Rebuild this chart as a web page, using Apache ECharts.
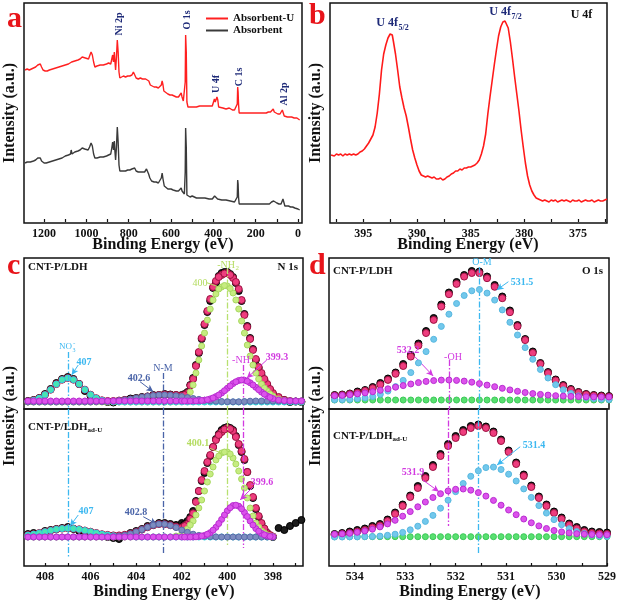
<!DOCTYPE html>
<html><head><meta charset="utf-8">
<script src="https://cdn.jsdelivr.net/npm/echarts@6/dist/echarts.min.js"></script>
<style>html,body{margin:0;padding:0;background:#fff}#c{width:619px;height:606px}</style>
</head><body><div id="c"></div>
<script>
// ---------- DATA ----------
// Panel a: survey spectra [binding energy, intensity]
const aAbsorbentU = [[1290,152],[1280,153],[1270,152],[1260,153],[1250,154],[1240,155],[1230,157],[1225,159],[1218,158],[1212,155],[1205,152],[1195,151],[1185,151],[1175,152],[1160,153],[1145,154],[1130,155],[1115,156],[1100,157],[1085,158],[1070,160],[1055,161],[1040,162],[1030,163],[1020,165],[1012,167],[1005,164],[998,165],[990,163],[985,166],[978,170],[972,167],[966,160],[960,155],[950,156],[935,157],[920,157],[905,158],[895,159],[885,158],[880,163],[876,167],[872,160],[868,170],[865,160],[862,152],[858,165],[854,182],[850,170],[846,150],[842,144],[835,145],[825,146],[815,145],[805,146],[795,146],[785,147],[778,150],[772,148],[765,144],[755,143],[745,144],[740,146],[735,143],[728,142],[720,143],[712,145],[705,141],[698,137],[690,136],[680,135],[670,135],[660,134],[652,133],[646,137],[642,141],[638,137],[634,131],[625,129],[615,128],[605,127],[595,127],[585,126],[575,125],[565,125],[558,125],[552,129],[548,125],[542,121],[537,120],[533,140],[531,187],[528,170],[525,120],[520,115],[510,115],[495,115],[480,115],[465,116],[450,116],[435,116],[420,116],[405,116],[398,118],[395,123],[391,120],[387,119],[383,125],[379,122],[375,115],[370,114],[355,114],[340,113],[325,114],[310,112],[300,112],[292,113],[287,118],[285,135],[283,130],[281,118],[278,109],[270,109],[255,109],[240,109],[225,109],[210,109],[195,109],[180,109],[165,109],[150,109],[140,110],[130,110],[122,112],[117,113],[112,110],[105,109],[95,108],[85,108],[78,109],[74,112],[70,111],[65,106],[60,105],[50,105],[40,105],[30,105],[22,106],[18,104],[10,105],[5,104],[0,103],[-8,102]];
const aAbsorbent = [[1290,59],[1280,60],[1265,60],[1250,61],[1240,62],[1230,64],[1224,66],[1218,64],[1212,61],[1200,59],[1190,59],[1175,60],[1160,61],[1145,62],[1130,63],[1115,64],[1100,66],[1085,67],[1075,68],[1072,72],[1068,68],[1055,70],[1040,71],[1030,72],[1020,74],[1014,76],[1008,73],[1000,74],[992,72],[985,75],[978,79],[972,76],[966,68],[960,64],[950,64],[935,65],[920,65],[905,66],[895,67],[885,68],[880,74],[876,80],[872,72],[868,81],[865,70],[862,62],[858,75],[854,95],[850,80],[846,57],[842,51],[835,51],[825,51],[815,51],[805,52],[795,52],[785,53],[778,55],[772,54],[765,51],[755,50],[745,50],[735,50],[725,50],[716,53],[712,54],[706,48],[700,44],[692,41],[680,40],[670,40],[660,39],[652,39],[646,44],[642,49],[638,43],[632,36],[625,34],[615,33],[600,33],[590,32],[575,31],[565,31],[558,31],[552,34],[548,31],[542,29],[537,28],[533,50],[531,94],[528,75],[525,27],[520,25],[510,25],[500,26],[495,28],[490,25],[480,24],[460,24],[440,24],[420,23],[405,23],[398,24],[394,26],[390,24],[380,23],[360,22],[340,22],[320,21],[300,20],[292,21],[287,25],[285,42],[283,38],[281,25],[278,18],[260,18],[240,18],[220,18],[200,18],[195,19],[190,18],[170,18],[150,18],[135,18],[125,20],[120,22],[115,21],[110,19],[100,19],[90,18],[80,18],[75,20],[71,23],[67,21],[62,16],[55,16],[45,16],[35,15],[30,16],[25,15],[20,13],[15,14],[10,14],[0,13],[-8,12]];
// Panel b: U 4f spectrum
const bU4f = [[398.0,67],[397.7,66],[397.5,68],[397.3,67],[397.1,68],[396.9,66],[396.7,68],[396.5,67],[396.3,68],[396.1,67],[395.9,68],[395.7,67],[395.5,68],[395.3,70],[395.1,71],[394.9,73],[394.7,76],[394.5,79],[394.3,83],[394.1,87],[393.9,95],[393.7,109],[393.5,128],[393.3,152],[393.1,168],[392.9,177],[392.7,184],[392.5,188],[392.4,189],[392.3,187],[392.2,181],[392.0,168],[391.8,152],[391.6,135],[391.4,124],[391.2,114],[391.0,106],[390.8,95],[390.6,83],[390.4,72],[390.2,64],[390.0,57],[389.8,51],[389.6,47],[389.4,46],[389.2,45],[389.0,46],[388.8,45],[388.6,44],[388.4,45],[388.2,43],[388.0,43],[387.8,44],[387.6,42],[387.4,43],[387.2,45],[387.0,46],[386.8,48],[386.6,49],[386.4,51],[386.2,51],[386.0,53],[385.8,52],[385.6,54],[385.4,54],[385.2,55],[385.0,55],[384.8,56],[384.6,57],[384.4,59],[384.2,62],[384.0,68],[383.8,76],[383.6,88],[383.4,108],[383.2,125],[383.0,141],[382.8,157],[382.6,172],[382.4,186],[382.2,195],[382.0,200],[381.9,202],[381.8,201],[381.7,199],[381.5,194],[381.3,180],[381.1,163],[380.9,145],[380.7,128],[380.5,111],[380.3,92],[380.1,75],[379.9,59],[379.7,46],[379.5,37],[379.3,31],[379.1,27],[378.9,24],[378.7,23],[378.5,22],[378.3,21],[378.1,22],[377.9,21],[377.7,20],[377.5,22],[377.3,21],[377.1,22],[376.9,20],[376.7,21],[376.5,22],[376.3,21],[376.1,22],[375.9,21],[375.7,20],[375.5,22],[375.3,21],[375.1,21],[374.9,22],[374.7,20],[374.5,21],[374.3,22],[374.1,21],[373.9,21],[373.7,22],[373.5,20],[373.3,21],[373.1,22],[372.9,21],[372.7,21],[372.5,22],[372.3,23]];

// Panel c: N 1s energies (coarse grid over the whole range + fine grid over the main peak)
const cE = [408.75,408.5,408.25,408.0,407.75,407.5,407.25,407.0,406.75,406.5,406.25,406.0,405.75,405.5,405.25,405.0,404.75,404.5,404.25,404.0,403.75,403.5,403.25,403.0,402.75,402.5,402.25,402.0,401.75,401.5,401.25,401.0,400.75,400.5,400.25,400.0,399.75,399.5,399.25,399.0,398.75,398.5,398.25,398.0,397.75,397.5,397.25,397.0,396.75];
const cEfine = [401.875,401.625,401.375,401.125,400.875,400.625,400.375,400.125,399.875,399.625,399.375,399.125,398.875,398.625,398.375,398.125];
// c top: CNT-P/LDH
const c1Raw = [8,9,11,15,20,26,30,32,30,25,18,13,10,8,7,6.5,8,9,10.5,11,12,12.5,14,14,15,14.5,14,14,17,31,56,84,108,126,136,137,132,118,95,71,49,34,24,15,11,9,7,7.5,7];
const c1RawFine = [15,24,44,70,97,121,133,137,135,126,108,83,60,41,29,19];
const c1Fit = [7.6,8.7,10.8,14.3,19.3,24.9,29.3,31,29.3,24.9,19.3,14.3,10.8,8.7,8,8,8.5,9,9.5,10.5,11.5,12.5,13.5,14,14.5,14,14,13.5,16,30,57,85,110,128,134,136,131,120,94,70,50,36,25,16,12,9,8,7.5,7.5];
const c1FitFine = [14,23.5,43,71,98,122,132,135.5,134,127,109,82,59,42,30,20];
const c1NO3 = [7.6,8.7,10.8,14.3,19.3,24.9,29.3,31,29.3,24.9,19.3,14.3,10.8,8.7,7.6,7.2,7,7,7,7,7,7,7,7,7,7,7,7,7,7,7,7,7,7,7,7,7,7,7,7,7,7,7,7,7,7,7,7,7];
const c1NM = [7,7,7,7,7,7,7,7,7,7,7,7,7.2,7.35,7.6,7.9,8.5,9.1,9.9,10.9,11.8,12.7,13.4,13.9,14,13.7,13.2,12.4,11.4,10.5,9.6,8.8,8.2,7.8,7.5,7.3,7.2,7.2,7.5,7.8,8,8,8,8,8,8,8,8,8];
const c1NH2 = [7,7,7,7,7,7,7,7,7,7,7,7,7,7,7,7,7,7,7,7,7,7,7,7,7,7,7,8,11,24,49,76,100,115,122,123,116,100,76,53,36,25,18,13,10,8.5,7.5,7,7];
const c1NH2Fine = [9,17,36,63,89,109,120,123.5,120.5,109,88,64,44,30,21,15];
const c1NH = [8,8,8,8,8,8,8,8,8,8,8,8,8,8,8,8,8,8,8,8,8,8,8,8,8,8,8,8,8,8,8.3,8.8,10.1,12.4,16,20.7,25.4,28.5,28.8,26.2,21.7,16.9,13,10.4,9,8.4,8.1,8,8];
const c1NHFine = [8,8,8.1,8.5,9.3,11.1,14,18.3,23.1,27.2,29,27.8,24.1,19.3,14.8,11.6];
// c bottom: CNT-P/LDH ad-U
const c2Raw = [32,33,32,35,36,37,38,39,37,35,34,33,31,30,29,28,27,30,33,35,37,40,41,43,43,42,41,43,45,55,75,93,110,127,136,139,136,121,106,80,57,42,33,29,38,36,40,43,46];
const c2RawFine = [42,49,65,85,103,119,132,138,138,130,114,94,68,49,37,30];
const c2Fit = [30.9,31.8,33,34.3,35.5,36.7,37.4,37.7,37.4,36.7,35.5,34.3,33,31.8,31.1,30.6,30.6,31.2,32.3,34.1,36.4,38.8,40.8,41.9,41.8,40.8,39.3,38.3,42,52.7,75,95,111,126,134,138,135,122,107,81,58,43,33,29.5,null,null,null,null,null];
const c2FitFine = [40,47,64,86,104,119,131,136.5,137,129,115,94,69,50,37.5,31];
const c2NO3 = [30.9,31.8,33,34.3,35.5,36.7,37.4,37.7,37.4,36.7,35.5,34.3,33,31.8,30.9,30.2,29.7,29.4,29.2,29,29,29,29,29,29,29,29,29,29,29,29,29,29,29,29,29,29,29,29,29,29,29,29,29,null,null,null,null,null];
const c2NM = [29,29,29,29,29,29,29,29,29,29,29,29,29,29,29.2,29.4,29.9,30.8,32.1,34.1,36.4,38.8,40.8,41.9,41.8,40.5,38.4,35.9,33.7,31.8,30.6,29.8,29.4,29.1,29,29,29,29,29,29,29,29,29,29,null,null,null,null,null];
const c2NH2 = [29,29,29,29,29,29,29,29,29,29,29,29,29,29,29,29,29,29,29,29,29,29,29,29,29,29,30,32,37,45,58,75,92,106,113,114,108,95,78,58,43,35,31,29.5,null,null,null,null,null];
const c2NH2Fine = [34,41,51,66,84,99,110,114,112,102,87,68,50,39,33,30];
const c2NH = [29,29,29,29,29,29,29,29,29,29,29,29,29,29,29,29,29,29,29,29,29,29,29,29,29,29,29,29,29,29,29.5,30.6,33.3,38.7,46.6,55.2,60.4,59.8,53.6,45,37.4,32.6,30.2,29.3,null,null,null,null,null];
const c2NHFine = [29,29,29.2,30,31.8,35.8,42.5,51,58.3,60.8,57.2,49.5,41,34.8,31.2,29.6];

// Panel d: O 1s energies
const dE = [534.4,534.25,534.1,533.95,533.8,533.65,533.5,533.35,533.2,533.05,532.9,532.75,532.6,532.45,532.3,532.15,532.0,531.85,531.7,531.55,531.4,531.25,531.1,530.95,530.8,530.65,530.5,530.35,530.2,530.05,529.9,529.75,529.6,529.45,529.3,529.15,529.0];
const d1Raw = [14,14.5,15.5,17.5,19,22,26,30.5,36.5,45,54,65.5,78,91,104.5,116.5,127,134,138,137.5,132.5,124,112.5,98.5,84,70,57.5,46,37,29.5,24,20,17,15,14,13.5,13];
const d1Fit = [13.4,13.9,14.9,16.3,18.2,20.8,24.4,29.1,35.2,43,52.4,63.5,76,89.1,102.5,114.8,125.1,132.4,136,135.9,130.8,122.2,110.8,96.8,82.7,68.9,56.1,45.1,35.9,28.6,23.1,19.2,16.5,14.6,13.5,12.8,12.4];
const d1OM = [9.2,9.3,9.6,10.2,11.1,12.5,14.7,17.9,22.4,28.6,36.4,46.1,57.4,69.7,82.6,94.8,105.5,113.5,118.2,119.5,115.9,108.9,99.1,86.7,74,61.4,49.7,39.5,31,24.3,19.2,15.6,13.1,11.4,10.4,9.8,9.4];
const d1OH = [13.2,13.6,14.3,15.1,16.1,17.3,18.7,20.2,21.8,23.4,25,26.4,27.6,28.4,28.9,29,28.6,27.9,26.8,25.4,23.9,22.3,20.7,19.1,17.7,16.5,15.4,14.6,13.9,13.3,12.9,12.6,12.4,12.2,12.1,12,12];
const d1Base = [9,9,9,9,9,9,9,9,9,9,9,9,9,9,9,9,9,9,9,9,9,9,9,9,9,9,9,9,9,9,9,9,9,9,9,9,9];
const d2Raw = [32,33,34.5,36,37.5,40,42,46.5,53.5,61.5,70.5,80,90,101,112,122,130,136,140,141.5,139.5,134.5,126.5,115.5,103.5,91.5,80.5,69.5,61.5,54.5,48.5,42.5,39,36,34.5,34,33.5];
const d2Fit = [31,32,33,34.5,36,38.5,40.5,45,52,60,69,78,88,99,110,120,128,134,138,140,138,133,125,114,102,90,79,68,60,53,47,41,37.5,34.5,33,32.5,32];
const d2OM = [29,29,29.1,29.1,29.3,29.5,29.9,30.7,31.8,33.6,36.2,39.8,44.6,50.6,57.8,65.8,74.3,82.5,89.7,95.2,98.4,98.9,96.5,91.8,85,77.1,68.6,60.4,52.9,46.4,41.3,37.3,34.4,32.4,31,30.1,29.6];
const d2OH = [31.7,32.1,32.7,33.7,35,36.8,39.1,42.1,45.7,49.8,54.4,59.2,64,68.5,72.3,75.1,76.7,77,75.8,73.4,69.9,65.6,60.8,56,51.3,47,43.2,40.1,37.5,35.5,34.1,33.1,32.3,31.8,31.5,31.3,31.2];
const d2Base = [29.3,29.3,29.3,29.3,29.3,29.3,29.3,29.3,29.3,29.3,29.3,29.3,29.3,29.3,29.3,29.3,29.3,29.3,29.3,29.3,29.3,29.3,29.3,29.3,29.3,29.3,29.3,29.3,29.3,29.3,29.3,29.3,29.3,29.3,29.3,29.3,29.3];

// Tick positions / labels
const aTicks = [0,100,200,300,400,500,600,700,800,900,1000,1100,1200];
const aLabels = [0,200,400,600,800,1000,1200];
const bTicks = [372.5,375,377.5,380,382.5,385,387.5,390,392.5,395,397.5];
const bLabels = [375,380,385,390,395];
const cTicks = [397,398,399,400,401,402,403,404,405,406,407,408];
const cLabels = [398,400,402,404,406,408];
const dTicks = [529,529.5,530,530.5,531,531.5,532,532.5,533,533.5,534];
const dLabels = [529,530,531,532,533,534];

// Reference lines [energy, y-start, y-end]
const cLines1 = {cyan:[407,57,0], slate:[402.8,36,0], green:[400,141,0], mag:[399.3,44,0]};
const cLines2 = {cyan:[407,157,8], slate:[402.8,157,13], green:[400,157,21], mag:[399.3,157,18]};
const dLines1 = {cyan:[531.55,142,0], mag:[532.15,49,0]};
const dLines2 = {cyan:[531.55,157,13], mag:[532.15,157,40]};

// ---------- CHART ----------
const FONT = '"Liberation Serif","Times New Roman",serif';
const COL = {cyanL:'#3cb8f0', slateL:'#4a64a8', greenL:'#b4dc60', magL:'#d23ae0', navy:'#1e2a78'};
const chart = echarts.init(document.getElementById('c'), null, {renderer:'canvas'});

function zip(xs, ys){ const o=[]; for(let i=0;i<xs.length;i++){ if(ys[i]!=null) o.push([xs[i], ys[i]]); } return o; }

const gridDefs = [
  {left:24, top:3, width:278, height:220},
  {left:330, top:3, width:277, height:220},
  {left:24, top:258, width:279, height:151},
  {left:24, top:409, width:279, height:157},
  {left:329, top:258, width:280, height:151},
  {left:329, top:409, width:280, height:157}
];
const grid = gridDefs.map(g => Object.assign({show:true, borderColor:'#111', borderWidth:1.5, backgroundColor:'rgba(0,0,0,0)'}, g));

function xa(gi, min, max, ticks, labels){
  return {type:'value', gridIndex:gi, min:min, max:max, inverse:true,
    splitLine:{show:false}, axisLine:{show:false},
    axisTick: ticks ? {show:true, inside:true, length:3, lineStyle:{color:'#111', width:1.2}, customValues:ticks} : {show:false},
    axisLabel: labels ? {show:true, customValues:labels, margin:5, color:'#111', fontFamily:FONT, fontWeight:'bold', fontSize:12,
      formatter: v => String(v)} : {show:false}
  };
}
const xAxis = [
  xa(0, -19, 1295, aTicks, aLabels),
  xa(1, 372.3, 398.1, bTicks, bLabels),
  xa(2, 396.68, 408.92, null, null),
  xa(3, 396.68, 408.92, cTicks, cLabels),
  xa(4, 529, 534.51, null, null),
  xa(5, 529, 534.51, dTicks, dLabels)
];
const yr = [[-1,219],[-1,219],[0,151],[0,157],[0,151],[0,157]];
const yAxis = yr.map((r,i)=>({type:'value', gridIndex:i, min:r[0], max:r[1], show:false, splitLine:{show:false}}));

function lineS(name, gi, data, color, w, z){
  return {name:name, type:'line', xAxisIndex:gi, yAxisIndex:gi, data:data, showSymbol:false, symbol:'none',
    lineStyle:{color:color, width:w}, itemStyle:{color:color}, z:z, silent:true, animation:false};
}
function vseg(l, color){
  return [{coord:[l[0], l[1]], symbol:'none', lineStyle:{color:color, width:1.3, type:[6,2,1.5,2]}}, {coord:[l[0], l[2]], symbol:'none'}];
}
function aseg(p, color, arrow){
  return [{coord:p[0], symbol:'none', lineStyle:{color:color, width:1, type:'solid'}}, {coord:p[1], symbol: arrow ? 'arrow' : 'none', symbolSize:[5,7]}];
}
function dotS(name, gi, pts, fill, edge, size, z, marks){
  const s = {name:name, type:'scatter', xAxisIndex:gi, yAxisIndex:gi, data:pts, symbolSize:size,
    itemStyle:{color:fill, borderColor:edge, borderWidth:1, opacity:1}, z:z, silent:true, animation:false};
  if (marks) s.markLine = {silent:true, symbol:['none','none'], label:{show:false}, animation:false, emphasis:{disabled:true}, data:marks};
  return s;
}

const P = {raw:['#1c1c1c','#000'], fit:['#ee3d7e','#9c1040'], nh2:['#c6ec80','#a8d860'], no3:['#48e6b0','#30cfe0'],
  nm:['#7c8cc0','#5a6aa8'], nh:['#dc52ec','#b82cd0'], om:['#72c8ec','#58b8e0'], base:['#58e070','#3cc858']};

const series = [
  lineS('Absorbent-U', 0, aAbsorbentU, '#ff2020', 1.4, 3),
  lineS('Absorbent', 0, aAbsorbent, '#3a3a3a', 1.4, 3),
  lineS('U 4f', 1, bU4f, '#ff1a1a', 1.6, 3),
  // c top
  dotS('raw c1', 2, zip(cE, c1Raw).concat(zip(cEfine, c1RawFine)), P.raw[0], P.raw[1], 7, 2),
  dotS('fit c1', 2, zip(cE, c1Fit).concat(zip(cEfine, c1FitFine)), P.fit[0], P.fit[1], 7, 3),
  dotS('-NH2 c1', 2, zip(cE, c1NH2).concat(zip(cEfine, c1NH2Fine)), P.nh2[0], P.nh2[1], 6, 4,
       [vseg(cLines1.green, '#b8e070'), aseg([[400.90,126.3],[400.40,122.3]], COL.greenL, false)]),
  dotS('NO3 c1', 2, zip(cE, c1NO3), P.no3[0], P.no3[1], 6, 4,
       [vseg(cLines1.cyan, COL.cyanL), aseg([[406.54,44],[406.83,34]], COL.cyanL, true)]),
  dotS('N-M c1', 2, zip(cE, c1NM), P.nm[0], P.nm[1], 6, 5,
       [vseg(cLines1.slate, COL.slateL), aseg([[403.83,27.3],[403.25,17.3]], COL.slateL, true)]),
  dotS('-NH c1', 2, zip(cE, c1NH).concat(zip(cEfine, c1NHFine)), P.nh[0], P.nh[1], 6, 6,
       [vseg(cLines1.mag, COL.magL), aseg([[398.27,49],[399.15,30.7]], COL.magL, true)]),
  // c bottom
  dotS('raw c2', 3, zip(cE, c2Raw).concat(zip(cEfine, c2RawFine)), P.raw[0], P.raw[1], 7, 2),
  dotS('fit c2', 3, zip(cE, c2Fit).concat(zip(cEfine, c2FitFine)), P.fit[0], P.fit[1], 7, 3),
  dotS('-NH2 c2', 3, zip(cE, c2NH2).concat(zip(cEfine, c2NH2Fine)), P.nh2[0], P.nh2[1], 6, 4,
       [vseg(cLines2.green, '#b8e070'), aseg([[400.76,117.7],[400.25,112.7]], COL.greenL, false)]),
  dotS('NO3 c2', 3, zip(cE, c2NO3), P.no3[0], P.no3[1], 6, 4,
       [vseg(cLines2.cyan, COL.cyanL), aseg([[406.54,51],[406.90,40]], COL.cyanL, true)]),
  dotS('N-M c2', 3, zip(cE, c2NM), P.nm[0], P.nm[1], 6, 5,
       [vseg(cLines2.slate, COL.slateL), aseg([[403.69,49.3],[403.10,42]], COL.slateL, true)]),
  dotS('-NH c2', 3, zip(cE, c2NH).concat(zip(cEfine, c2NHFine)), P.nh[0], P.nh[1], 6, 6,
       [vseg(cLines2.mag, COL.magL), aseg([[398.86,79.3],[399.44,66]], COL.magL, true)]),
  // d top
  dotS('raw d1', 4, zip(dE, d1Raw), P.raw[0], P.raw[1], 7, 2),
  dotS('fit d1', 4, zip(dE, d1Fit), P.fit[0], P.fit[1], 7, 3),
  dotS('base d1', 4, zip(dE, d1Base), P.base[0], P.base[1], 6, 4),
  dotS('O-M d1', 4, zip(dE, d1OM), P.om[0], P.om[1], 6, 5,
       [vseg(dLines1.cyan, COL.cyanL), aseg([[530.98,127.3],[531.21,119]], COL.cyanL, true)]),
  dotS('-OH d1', 4, zip(dE, d1OH), P.nh[0], P.nh[1], 6, 6,
       [vseg(dLines1.mag, COL.magL), aseg([[532.82,52.3],[532.46,33]], COL.magL, true)]),
  // d bottom
  dotS('raw d2', 5, zip(dE, d2Raw), P.raw[0], P.raw[1], 7, 2),
  dotS('fit d2', 5, zip(dE, d2Fit), P.fit[0], P.fit[1], 7, 3),
  dotS('base d2', 5, zip(dE, d2Base), P.base[0], P.base[1], 6, 4),
  dotS('O-M d2', 5, zip(dE, d2OM), P.om[0], P.om[1], 6, 5,
       [vseg(dLines2.cyan, COL.cyanL), aseg([[530.72,119.3],[531.18,101]], COL.cyanL, true)]),
  dotS('-OH d2', 5, zip(dE, d2OH), P.nh[0], P.nh[1], 6, 6,
       [vseg(dLines2.mag, COL.magL), aseg([[532.65,86],[532.33,74.3]], COL.magL, true)])
];

function T(text, x, y, size, color, opt){
  opt = opt || {};
  return {type:'text', x:x, y:y, z:100, silent:true, rotation: opt.rot || 0,
    style:{text:text, font:(opt.w||'bold')+' '+size+'px '+FONT, fill:color, align:opt.align||'center', verticalAlign:opt.va||'middle'}};
}
const K = '#111';
const graphic = [
  // panel letters
  T('a', 7, 4, 30, '#e8141a', {align:'left', va:'top'}),
  T('b', 309, 1, 30, '#e8141a', {align:'left', va:'top'}),
  T('c', 7, 251, 30, '#e8141a', {align:'left', va:'top'}),
  T('d', 309, 251, 30, '#e8141a', {align:'left', va:'top'}),
  // axis titles
  T('Binding Energy (eV)', 163, 245, 16, K),
  T('Binding Energy (eV)', 468, 245, 16, K),
  T('Binding Energy (eV)', 164, 592, 16, K),
  T('Binding Energy (eV)', 470, 592, 16, K),
  T('Intensity (a.u.)', 10, 113, 16, K, {rot:Math.PI/2}),
  T('Intensity (a.u.)', 316, 113, 16, K, {rot:Math.PI/2}),
  T('Intensity (a.u.)', 10, 416, 16, K, {rot:Math.PI/2}),
  T('Intensity (a.u.)', 316, 416, 16, K, {rot:Math.PI/2}),
  // panel a peak labels
  T('Ni 2p', 119, 24, 10, COL.navy, {rot:Math.PI/2}),
  T('O 1s', 187, 20, 10, COL.navy, {rot:Math.PI/2}),
  T('U 4f', 216, 84, 10, COL.navy, {rot:Math.PI/2}),
  T('C 1s', 239.5, 77, 10, COL.navy, {rot:Math.PI/2}),
  T('Al 2p', 284, 94, 10, COL.navy, {rot:Math.PI/2}),
  // panel b labels
  T('U 4f', 398, 23, 12, COL.navy, {align:'right'}),
  T('5/2', 398.5, 28, 8, COL.navy, {align:'left'}),
  T('U 4f', 511, 12, 12, COL.navy, {align:'right'}),
  T('7/2', 511.5, 17, 8, COL.navy, {align:'left'}),
  T('U 4f', 581.5, 15, 12, K),
  // panel c top
  T('CNT-P/LDH', 28, 267, 11, K, {align:'left'}),
  T('N 1s', 298, 267, 11, K, {align:'right'}),
  T('NO', 72, 347, 9, COL.cyanL, {align:'right', w:'normal'}),
  T('3', 72.5, 350, 6, COL.cyanL, {align:'left', w:'normal'}),
  T('-', 73, 343, 7, COL.cyanL, {align:'left', w:'normal'}),
  T('407', 84, 362, 10, COL.cyanL),
  T('402.6', 139, 378, 10, COL.slateL),
  T('N-M', 163, 368, 10, COL.slateL, {w:'normal'}),
  T('-NH', 235, 265, 10, COL.greenL, {align:'right', w:'normal'}),
  T('2', 235.5, 268, 7, COL.greenL, {align:'left', w:'normal'}),
  T('400', 200, 283, 10, COL.greenL, {w:'normal'}),
  T('-NH', 241, 360, 10, COL.magL, {w:'normal'}),
  T('399.3', 277, 357, 10, COL.magL),
  // panel c bottom
  T('CNT-P/LDH', 28, 427, 11, K, {align:'left'}),
  T('ad-U', 87.5, 430, 7, K, {align:'left'}),
  T('400.1', 198, 443, 10, COL.greenL),
  T('399.6', 262, 482, 10, COL.magL),
  T('402.8', 136, 512, 10, COL.slateL),
  T('407', 86, 511, 10, COL.cyanL),
  // panel d top
  T('CNT-P/LDH', 333, 271, 11, K, {align:'left'}),
  T('O 1s', 603, 271, 11, K, {align:'right'}),
  T('O-M', 482, 262, 10, COL.cyanL, {w:'normal'}),
  T('531.5', 522, 282, 10, COL.cyanL),
  T('532.2', 408, 350, 10, COL.magL),
  T('-OH', 453, 357, 10, COL.magL, {w:'normal'}),
  // panel d bottom
  T('CNT-P/LDH', 333, 436, 11, K, {align:'left'}),
  T('ad-U', 392.5, 439, 7, K, {align:'left'}),
  T('531.4', 534, 445, 10, COL.cyanL),
  T('531.9', 413, 472, 10, COL.magL)
];

chart.setOption({
  animation:false,
  backgroundColor:'#fff',
  grid: grid,
  xAxis: xAxis,
  yAxis: yAxis,
  legend: {data:['Absorbent-U','Absorbent'], left:201, top:8, orient:'vertical', itemGap:1, itemWidth:22, itemHeight:2,
    icon:'rect', selectedMode:false, textStyle:{fontFamily:FONT, fontWeight:'bold', fontSize:11, color:'#111'}},
  series: series,
  graphic: graphic
});
</script></body></html>
